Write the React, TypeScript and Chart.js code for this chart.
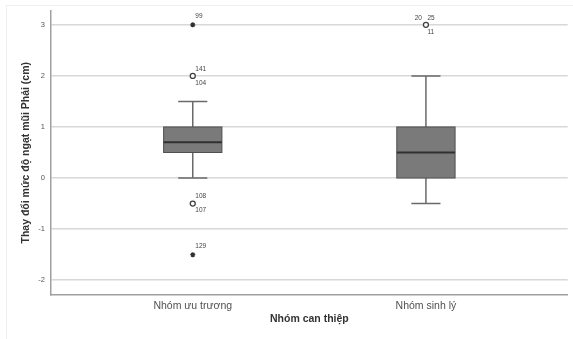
import React, { useEffect, useRef } from "react";
import { Chart, registerables } from "chart.js";

Chart.register(...registerables);

const categories = ["Nhóm ưu trương", "Nhóm sinh lý"];
const whiskerLow = [0, -0.5];
const q1 = [0.5, 0];
const median = [0.7, 0.5];
const q3 = [1, 1];
const whiskerHigh = [1.5, 2];

// mild outliers (circles)
const outlierCat = [0, 0, 1];
const outlierVal = [2, -0.5, 3];
const outlierIds = [["141", "104"], ["108", "107"], ["20", "25", "11"]];

// extreme outliers (stars)
const extremeCat = [0, 0];
const extremeVal = [3, -1.5];
const extremeIds = [["99"], ["129"]];

const yTicks = [-2, -1, 0, 1, 2, 3];
const yTitle = "Thay đổi mức độ ngạt mũi Phải (cm)";
const xTitle = "Nhóm can thiệp";

const FONT = "'Liberation Sans', Arial, sans-serif";

const boxPlugin = {
  id: "boxPlugin",
  beforeDraw(chart: any) {
    const ctx = chart.ctx;
    ctx.save();
    ctx.strokeStyle = "#efefef";
    ctx.lineWidth = 1;
    ctx.strokeRect(6.5, 5.5, 600, 400);
    ctx.restore();
  },
  beforeDatasetsDraw(chart: any) {
    const ctx = chart.ctx;
    const xs = chart.scales.x;
    const ys = chart.scales.y;
    ctx.save();
    categories.forEach((_, i) => {
      const cx = xs.getPixelForValue(i + 1);
      const hw = xs.getPixelForValue(i + 1 + 0.125) - cx;
      const cw = xs.getPixelForValue(i + 1 + 0.0625) - cx;
      const yQ1 = ys.getPixelForValue(q1[i]);
      const yQ3 = ys.getPixelForValue(q3[i]);
      const yMed = ys.getPixelForValue(median[i]);
      const yLo = ys.getPixelForValue(whiskerLow[i]);
      const yHi = ys.getPixelForValue(whiskerHigh[i]);
      // whiskers
      ctx.strokeStyle = "#6a6a6a";
      ctx.lineWidth = 1.5;
      ctx.beginPath();
      ctx.moveTo(cx, yQ3);
      ctx.lineTo(cx, yHi);
      ctx.moveTo(cx - cw, yHi);
      ctx.lineTo(cx + cw, yHi);
      ctx.moveTo(cx, yQ1);
      ctx.lineTo(cx, yLo);
      ctx.moveTo(cx - cw, yLo);
      ctx.lineTo(cx + cw, yLo);
      ctx.stroke();
      // box
      ctx.fillStyle = "#7a7a7a";
      ctx.fillRect(cx - hw, yQ3, 2 * hw, yQ1 - yQ3);
      ctx.strokeStyle = "#505050";
      ctx.lineWidth = 1;
      ctx.strokeRect(cx - hw, yQ3, 2 * hw, yQ1 - yQ3);
      // median
      ctx.strokeStyle = "#303030";
      ctx.lineWidth = 2;
      ctx.beginPath();
      ctx.moveTo(cx - hw, yMed);
      ctx.lineTo(cx + hw, yMed);
      ctx.stroke();
    });
    ctx.restore();
  },
  afterDatasetsDraw(chart: any) {
    const ctx = chart.ctx;
    const xs = chart.scales.x;
    const ys = chart.scales.y;
    ctx.save();
    ctx.fillStyle = "#444";
    ctx.font = `6.5px ${FONT}`;
    ctx.textBaseline = "middle";
    ctx.textAlign = "left";
    const label = (cat: number, val: number, ids: string[]) => {
      const px = xs.getPixelForValue(cat + 1);
      const py = ys.getPixelForValue(val);
      if (ids.length === 1) {
        ctx.fillText(ids[0], px + 2.5, py - 8.5);
      } else if (ids.length === 2) {
        ctx.fillText(ids[0], px + 2.5, py - 7);
        ctx.fillText(ids[1], px + 2.5, py + 7);
      } else {
        ctx.textAlign = "right";
        ctx.fillText(ids[0], px - 4, py - 7);
        ctx.textAlign = "left";
        ctx.fillText(ids[1], px + 1.5, py - 7);
        ctx.fillText(ids[2], px + 1.5, py + 7);
      }
    };
    outlierCat.forEach((c, i) => label(c, outlierVal[i], outlierIds[i]));
    extremeCat.forEach((c, i) => label(c, extremeVal[i], extremeIds[i]));
    ctx.restore();
  },
};

export default function App() {
  const ref = useRef<HTMLCanvasElement | null>(null);
  useEffect(() => {
    if (!ref.current) return;
    const chart = new Chart(ref.current, {
      type: "scatter",
      data: {
        datasets: [
          {
            label: "outliers",
            data: outlierCat.map((c, i) => ({ x: c + 1, y: outlierVal[i] })),
            pointStyle: "circle",
            pointRadius: 2.5,
            pointBackgroundColor: "#ffffff",
            pointBorderColor: "#404040",
            pointBorderWidth: 1.3,
          },
          {
            label: "extremes",
            data: extremeCat.map((c, i) => ({ x: c + 1, y: extremeVal[i] })),
            pointStyle: "star",
            pointRadius: 2.5,
            pointBackgroundColor: "#303030",
            pointBorderColor: "#303030",
            pointBorderWidth: 1.3,
          },
        ],
      },
      options: {
        responsive: false,
        animation: false,
        layout: { padding: { top: 10, right: 2, left: 0, bottom: 0 } },
        plugins: { legend: { display: false }, tooltip: { enabled: false } },
        scales: {
          x: {
            type: "linear",
            min: 0.392,
            max: 2.608,
            afterBuildTicks: (scale: any) => {
              scale.ticks = categories.map((_, i) => ({ value: i + 1 }));
            },
            afterFit: (scale: any) => {
              scale.height = 44;
            },
            grid: { display: false, drawTicks: false },
            border: { display: true, color: "#a0a0a0", width: 1.5 },
            ticks: {
              padding: 5,
              color: "#505050",
              font: { family: FONT, size: 10.5 },
              maxRotation: 0,
              autoSkip: false,
              callback: (v: any) => categories[Math.round(Number(v)) - 1] ?? "",
            },
            title: {
              display: true,
              text: xTitle,
              color: "#333",
              font: { family: FONT, size: 10.5, weight: "bold" },
              padding: { top: 0, bottom: 14 },
            },
          },
          y: {
            type: "linear",
            min: -2.29,
            max: 3.28,
            afterBuildTicks: (scale: any) => {
              scale.ticks = yTicks.map((v) => ({ value: v }));
            },
            afterFit: (scale: any) => {
              scale.width = 51;
            },
            grid: { color: "#d8d8d8", lineWidth: 1.5, drawTicks: false },
            border: { display: true, color: "#a0a0a0", width: 1.5 },
            ticks: {
              padding: 6,
              color: "#555",
              font: { family: FONT, size: 7.5 },
            },
            title: {
              display: true,
              text: yTitle,
              color: "#333",
              font: { family: FONT, size: 10.5, weight: "bold" },
              padding: { top: 20, bottom: 0 },
            },
          },
        },
      },
      plugins: [boxPlugin],
    } as any);
    return () => chart.destroy();
  }, []);
  return (
    <div style={{ position: "absolute", left: 0, top: 0, width: 573, height: 339, background: "#fff" }}>
      <canvas ref={ref} width={573} height={339} style={{ display: "block" }} />
    </div>
  );
}
